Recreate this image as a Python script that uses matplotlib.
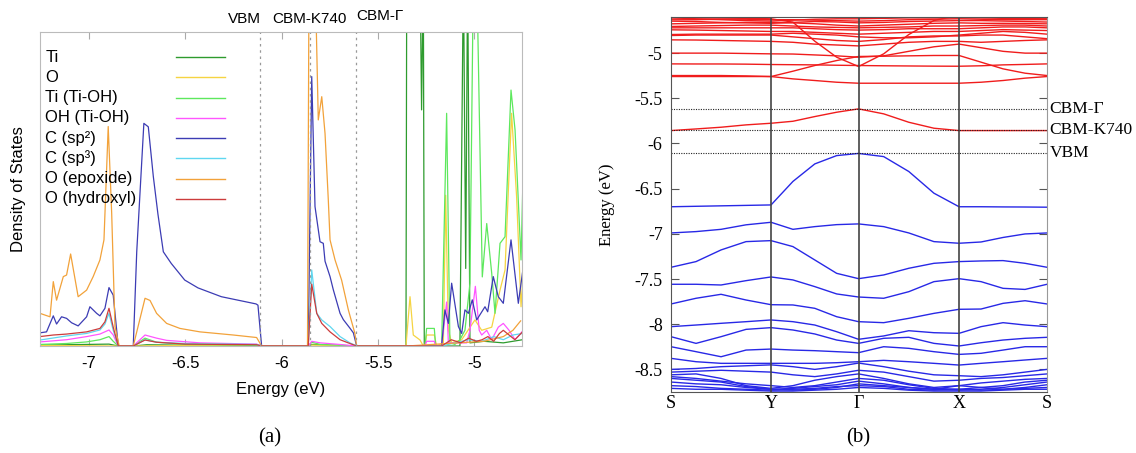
import numpy as np
import matplotlib
matplotlib.use("Agg")
import matplotlib.pyplot as plt

plt.rcParams['axes.unicode_minus'] = False
SANS = ['Liberation Sans', 'DejaVu Sans']
SERIF = ['Liberation Serif', 'DejaVu Serif']

# ---------------- (a) projected DOS: (energy eV, DOS arb. units) ----------------
dos_labels = ["Ti", "O", "Ti (Ti-OH)", "OH (Ti-OH)", "C (sp²)", "C (sp³)", "O (epoxide)", "O (hydroxyl)"]
dos_colors = ["#2e9b2e", "#f5d442", "#5de85d", "#ff55ff", "#3c3cb4", "#5fd7f0", "#f2a23a", "#cc3c3c"]

ti_e = [-7.254, -6.896, -6.848, -6.77, -6.70, -6.104, -5.862, -5.844, -5.611, -5.355, -5.351, -5.282,
        -5.274, -5.265, -5.26, -5.075, -5.057, -5.045, -5.035, -5.023, -4.95, -4.85, -4.75]
ti_v = [0.003, 0.006, 0.0, 0.0, 0.004, 0.0, 0.0, 0.005, 0.0, 0.0, 1.2, 1.2,
        0.752, 1.2, 0.0, 0.0, 1.2, 0.247, 1.2, 0.01, 0.015, 0.01, 0.02]

o_e = [-7.254, -6.848, -6.77, -6.5, -6.104, -5.862, -5.844, -5.611, -5.355, -5.334, -5.317, -5.282,
       -5.265, -5.256, -5.248, -5.208, -5.196, -5.161, -5.149, -5.135, -5.118, -5.066, -4.997, -4.962,
       -4.91, -4.867, -4.841, -4.807, -4.781, -4.758, -4.746]
o_v = [0.002, 0.0, 0.0, 0.002, 0.0, 0.0, 0.003, 0.0, 0.0, 0.157, 0.035, 0.019,
       0.0, 0.0, 0.035, 0.035, 0.0, 0.01, 0.48, 0.05, 0.01, 0.02, 0.083, 0.05,
       0.06, 0.178, 0.242, 0.741, 0.476, 0.125, 0.242]

tioh_e = [-7.254, -7.116, -7.012, -6.943, -6.896, -6.874, -6.848, -6.77, -6.709, -6.649, -6.5, -6.2,
          -6.104, -5.862, -5.844, -5.8, -5.611, -5.265, -5.256, -5.248, -5.208, -5.201, -5.17, -5.144,
          -5.127, -5.101, -5.075, -5.049, -5.023, -5.005, -4.988, -4.959, -4.936, -4.91, -4.893, -4.867,
          -4.841, -4.81, -4.789, -4.758, -4.746]
tioh_v = [0.005, 0.008, 0.013, 0.02, 0.03, 0.015, 0.0, 0.0, 0.025, 0.012, 0.005, 0.003,
          0.0, 0.0, 0.012, 0.005, 0.0, 0.0, 0.0, 0.056, 0.056, 0.0, 0.0, 0.741,
          0.01, 0.005, 0.02, 0.05, 0.2, 1.2, 1.2, 0.22, 0.39, 0.231, 0.104, 0.327,
          0.348, 0.815, 0.688, 0.274, 0.582]

oh_e = [-7.254, -7.116, -7.012, -6.943, -6.896, -6.874, -6.848, -6.77, -6.709, -6.649, -6.597, -6.424,
        -6.13, -6.104, -5.862, -5.844, -5.80, -5.70, -5.611, -5.265, -5.256, -5.248, -5.208, -5.201,
        -5.17, -5.144, -5.135, -5.066, -5.04, -5.023, -4.995, -4.975, -4.962, -4.936, -4.91, -4.876,
        -4.85, -4.82, -4.789, -4.746]
oh_v = [0.013, 0.02, 0.03, 0.038, 0.051, 0.035, 0.0, 0.0, 0.035, 0.025, 0.018, 0.01,
        0.006, 0.0, 0.0, 0.015, 0.01, 0.005, 0.0, 0.0, 0.0, 0.015, 0.015, 0.0,
        0.0, 0.14, 0.01, 0.01, 0.01, 0.05, 0.19, 0.05, 0.035, 0.05, 0.02, 0.06,
        0.072, 0.05, 0.02, 0.05]

csp2_e = [-7.254, -7.22, -7.185, -7.168, -7.142, -7.116, -7.09, -7.056, -7.012, -6.995, -6.96, -6.943,
          -6.917, -6.896, -6.874, -6.848, -6.77, -6.752, -6.715, -6.692, -6.666, -6.642, -6.614, -6.573,
          -6.503, -6.434, -6.313, -6.227, -6.133, -6.123, -6.104, -5.862, -5.844, -5.827, -5.801, -5.784,
          -5.775, -5.749, -5.732, -5.697, -5.68, -5.646, -5.628, -5.611, -5.17, -5.153, -5.135, -5.118,
          -5.083, -5.066, -5.049, -5.031, -5.011, -4.988, -4.945, -4.931, -4.902, -4.876, -4.85, -4.81,
          -4.772, -4.746]
csp2_v = [0.042, 0.045, 0.096, 0.07, 0.093, 0.088, 0.074, 0.064, 0.093, 0.125, 0.104, 0.096,
          0.12, 0.186, 0.162, 0.0, 0.0, 0.30, 0.709, 0.698, 0.54, 0.42, 0.30, 0.263,
          0.21, 0.185, 0.157, 0.146, 0.134, 0.13, 0.0, 0.0, 0.858, 0.444, 0.332, 0.327,
          0.27, 0.221, 0.179, 0.104, 0.084, 0.057, 0.042, 0.0, 0.0, 0.115, 0.072, 0.2,
          0.062, 0.04, 0.115, 0.104, 0.147, 0.083, 0.125, 0.109, 0.221, 0.157, 0.136, 0.338,
          0.136, 0.253]

csp3_e = [-7.254, -7.116, -7.012, -6.943, -6.917, -6.896, -6.874, -6.848, -6.77, -6.709, -6.649, -6.5,
          -6.13, -6.104, -5.862, -5.844, -5.818, -5.792, -5.749, -5.697, -5.646, -5.611, -5.17, -5.10,
          -5.03, -4.96, -4.90, -4.85, -4.80, -4.75]
csp3_v = [0.019, 0.032, 0.04, 0.051, 0.07, 0.104, 0.05, 0.0, 0.0, 0.02, 0.012, 0.008,
          0.005, 0.0, 0.0, 0.242, 0.104, 0.083, 0.062, 0.03, 0.01, 0.0, 0.0, 0.01,
          0.02, 0.015, 0.03, 0.02, 0.035, 0.04]

oepo_e = [-7.254, -7.202, -7.185, -7.168, -7.133, -7.116, -7.095, -7.056, -7.012, -6.978, -6.943, -6.922,
          -6.90, -6.882, -6.865, -6.843, -6.77, -6.709, -6.683, -6.649, -6.597, -6.528, -6.424, -6.251,
          -6.13, -6.104, -5.866, -5.858, -5.838, -5.827, -5.81, -5.792, -5.775, -5.758, -5.749, -5.723,
          -5.689, -5.654, -5.62, -5.611, -5.35, -4.95, -4.85, -4.80, -4.76]
oepo_v = [0.104, 0.093, 0.205, 0.146, 0.221, 0.226, 0.293, 0.157, 0.178, 0.221, 0.274, 0.338,
          0.699, 0.423, 0.062, 0.0, 0.0, 0.152, 0.145, 0.104, 0.072, 0.056, 0.045, 0.035,
          0.027, 0.0, 0.0, 1.2, 1.2, 1.2, 0.72, 0.794, 0.677, 0.465, 0.338, 0.274,
          0.21, 0.115, 0.04, 0.0, 0.0, 0.015, 0.03, 0.05, 0.08]

ohyd_e = [-7.254, -7.185, -7.116, -7.012, -6.943, -6.917, -6.896, -6.874, -6.848, -6.77, -6.709, -6.649,
          -6.5, -6.13, -6.104, -5.862, -5.844, -5.818, -5.792, -5.749, -5.697, -5.646, -5.611, -5.17,
          -5.12, -5.07, -5.03, -4.99, -4.96, -4.93, -4.90, -4.87, -4.85, -4.82, -4.79, -4.75]
ohyd_v = [0.03, 0.035, 0.038, 0.045, 0.056, 0.077, 0.12, 0.06, 0.0, 0.0, 0.019, 0.012,
          0.006, 0.004, 0.0, 0.0, 0.197, 0.104, 0.072, 0.045, 0.02, 0.008, 0.0, 0.0,
          0.02, 0.01, 0.025, 0.015, 0.02, 0.03, 0.015, 0.04, 0.05, 0.035, 0.02, 0.045]

dos_series = [(ti_e, ti_v), (o_e, o_v), (tioh_e, tioh_v), (oh_e, oh_v),
              (csp2_e, csp2_v), (csp3_e, csp3_v), (oepo_e, oepo_v), (ohyd_e, ohyd_v)]

# band edges (eV)
edge_names = ["VBM", "CBM-K740", "CBM-Γ"]
edge_E = [-6.11, -5.855, -5.615]

# ---------------- (b) band structure ----------------
k_labels = ["S", "Y", "Γ", "X", "S"]
k_ticks = [0.0, 1.0, 1.875, 2.88, 3.76]

# energies at S, 1/4, 1/2, 3/4 of every segment and the final S (17 points)
valence = [
    [-6.70, -6.695, -6.69, -6.685, -6.68, -6.42, -6.226, -6.134, -6.11, -6.145, -6.31, -6.55, -6.70, -6.70, -6.702, -6.703, -6.705],
    [-6.99, -6.975, -6.95, -6.90, -6.872, -6.95, -6.92, -6.898, -6.89, -6.92, -6.99, -7.086, -7.104, -7.09, -7.04, -7.001, -6.99],
    [-7.37, -7.307, -7.178, -7.086, -7.075, -7.141, -7.289, -7.437, -7.496, -7.455, -7.381, -7.326, -7.307, -7.30, -7.296, -7.326, -7.37],
    [-7.558, -7.558, -7.566, -7.518, -7.477, -7.51, -7.584, -7.665, -7.699, -7.713, -7.64, -7.529, -7.496, -7.529, -7.603, -7.615, -7.558],
    [-7.776, -7.713, -7.669, -7.732, -7.784, -7.787, -7.824, -7.917, -7.972, -7.983, -7.935, -7.88, -7.835, -7.832, -7.769, -7.74, -7.776],
    [-8.027, -8.009, -7.99, -7.972, -7.953, -7.972, -8.009, -8.083, -8.167, -8.13, -8.072, -8.094, -8.101, -8.027, -7.983, -8.009, -8.027],
    [-8.138, -8.212, -8.138, -8.057, -8.038, -8.064, -8.108, -8.175, -8.212, -8.156, -8.145, -8.212, -8.241, -8.205, -8.175, -8.156, -8.145],
    [-8.249, -8.304, -8.36, -8.286, -8.275, -8.286, -8.293, -8.304, -8.315, -8.249, -8.267, -8.304, -8.334, -8.322, -8.286, -8.249, -8.249],
    [-8.378, -8.415, -8.433, -8.433, -8.433, -8.433, -8.433, -8.426, -8.415, -8.40, -8.415, -8.433, -8.452, -8.433, -8.415, -8.396, -8.378],
    [-8.50, -8.49, -8.47, -8.46, -8.45, -8.47, -8.50, -8.47, -8.43, -8.47, -8.52, -8.56, -8.57, -8.58, -8.56, -8.53, -8.50],
    [-8.53, -8.52, -8.51, -8.52, -8.53, -8.56, -8.58, -8.55, -8.51, -8.53, -8.58, -8.63, -8.62, -8.60, -8.59, -8.57, -8.55],
    [-8.56, -8.55, -8.60, -8.68, -8.71, -8.68, -8.62, -8.58, -8.55, -8.60, -8.66, -8.70, -8.68, -8.65, -8.63, -8.61, -8.60],
    [-8.58, -8.60, -8.63, -8.66, -8.68, -8.70, -8.68, -8.64, -8.60, -8.62, -8.67, -8.71, -8.72, -8.70, -8.68, -8.64, -8.62],
    [-8.60, -8.62, -8.64, -8.69, -8.72, -8.71, -8.69, -8.67, -8.63, -8.66, -8.70, -8.72, -8.73, -8.72, -8.70, -8.67, -8.64],
    [-8.64, -8.66, -8.67, -8.70, -8.72, -8.73, -8.72, -8.70, -8.66, -8.68, -8.70, -8.72, -8.68, -8.70, -8.72, -8.70, -8.67],
    [-8.68, -8.69, -8.71, -8.72, -8.73, -8.72, -8.71, -8.69, -8.68, -8.69, -8.72, -8.73, -8.72, -8.73, -8.72, -8.71, -8.70],
    [-8.71, -8.72, -8.72, -8.73, -8.74, -8.74, -8.73, -8.72, -8.70, -8.71, -8.73, -8.74, -8.74, -8.74, -8.73, -8.72, -8.72],
]

conduction = [
    [-5.857, -5.839, -5.82, -5.794, -5.776, -5.754, -5.702, -5.654, -5.617, -5.672, -5.765, -5.831, -5.857, -5.857, -5.857, -5.857, -5.857],
    [-5.259, -5.259, -5.259, -5.259, -5.259, -5.285, -5.303, -5.322, -5.333, -5.333, -5.333, -5.333, -5.333, -5.322, -5.303, -5.277, -5.259],
    [-5.248, -5.248, -5.248, -5.252, -5.259, -5.20, -5.137, -5.082, -5.037, -5.034, -5.03, -5.026, -5.026, -5.10, -5.174, -5.222, -5.248],
    [-5.119, -5.12, -5.12, -5.122, -5.126, -5.128, -5.13, -5.134, -5.137, -5.14, -5.142, -5.144, -5.145, -5.14, -5.13, -5.125, -5.119],
    [-4.609, -4.61, -4.612, -4.615, -4.62, -4.657, -4.868, -5.045, -5.148, -5.008, -4.794, -4.639, -4.58, -4.58, -4.58, -4.58, -4.58],
    [-5.0, -5.0, -5.0, -5.004, -5.008, -5.01, -5.02, -5.03, -5.045, -5.03, -4.98, -4.93, -4.90, -4.94, -4.98, -5.0, -5.0],
    [-4.853, -4.855, -4.86, -4.865, -4.87, -4.88, -4.9, -4.91, -4.92, -4.9, -4.88, -4.87, -4.87, -4.88, -4.87, -4.86, -4.853],
    [-4.805, -4.80, -4.80, -4.80, -4.80, -4.82, -4.84, -4.86, -4.87, -4.85, -4.82, -4.81, -4.81, -4.80, -4.80, -4.82, -4.84],
    [-4.794, -4.79, -4.79, -4.79, -4.79, -4.78, -4.79, -4.80, -4.82, -4.83, -4.83, -4.82, -4.80, -4.78, -4.76, -4.77, -4.79],
    [-4.742, -4.745, -4.75, -4.755, -4.76, -4.76, -4.77, -4.78, -4.79, -4.78, -4.77, -4.76, -4.76, -4.75, -4.74, -4.745, -4.75],
    [-4.72, -4.72, -4.72, -4.72, -4.72, -4.72, -4.73, -4.74, -4.745, -4.74, -4.73, -4.73, -4.73, -4.72, -4.71, -4.71, -4.72],
    [-4.705, -4.70, -4.695, -4.69, -4.69, -4.70, -4.71, -4.715, -4.72, -4.715, -4.71, -4.70, -4.70, -4.695, -4.69, -4.69, -4.70],
    [-4.676, -4.67, -4.665, -4.66, -4.66, -4.665, -4.675, -4.69, -4.70, -4.69, -4.68, -4.67, -4.665, -4.67, -4.67, -4.672, -4.676],
    [-4.646, -4.65, -4.66, -4.665, -4.67, -4.66, -4.65, -4.655, -4.665, -4.66, -4.65, -4.645, -4.64, -4.64, -4.645, -4.65, -4.656],
    [-4.631, -4.63, -4.625, -4.625, -4.63, -4.63, -4.635, -4.64, -4.646, -4.64, -4.63, -4.625, -4.62, -4.625, -4.63, -4.63, -4.63],
    [-4.609, -4.62, -4.63, -4.64, -4.645, -4.635, -4.625, -4.62, -4.62, -4.615, -4.61, -4.61, -4.609, -4.61, -4.615, -4.615, -4.614],
]

fig = plt.figure(figsize=(11.36, 4.53), dpi=100)

# ===== panel (a) =====
ax = fig.add_axes([0.0352, 0.2362, 0.4243, 0.6932])
for (e, v), c in zip(dos_series, dos_colors):
    ax.plot(e, v, color=c, lw=0.9)
for name, e in zip(edge_names, edge_E):
    ax.axvline(e, color="#999999", ls=(0, (2, 3)), lw=0.9)
ax.set_xlim(-7.254, -4.753)
ax.set_ylim(0, 1)
ax.set_yticks([])
ax.set_xticks([-7, -6.5, -6, -5.5, -5])
ax.set_xticklabels(["-7", "-6.5", "-6", "-5.5", "-5"], family=SANS, fontsize=12)
ax.tick_params(axis="x", direction="in", top=True, length=5, color="#aaaaaa", pad=7)
for s in ax.spines.values():
    s.set_color("#bbbbbb")
ax.set_xlabel("Energy (eV)", family=SANS, fontsize=12, labelpad=8)
ax.set_ylabel("Density of States", family=SANS, fontsize=12, labelpad=10)

# edge labels above the panel
ax.text(edge_E[0], 1.02, edge_names[0], ha="right", va="bottom", family=SANS, fontsize=11,
        transform=ax.get_xaxis_transform())
ax.text(edge_E[1], 1.02, edge_names[1], ha="center", va="bottom", family=SANS, fontsize=11,
        transform=ax.get_xaxis_transform())
ax.text(edge_E[2], 1.03, edge_names[2], ha="left", va="bottom", family=SANS, fontsize=11,
        transform=ax.get_xaxis_transform())

# gnuplot-style key
for i, (lab, c) in enumerate(zip(dos_labels, dos_colors)):
    yy = 0.92 - i * 0.0645
    ax.text(0.011, yy, lab, transform=ax.transAxes, ha="left", va="center", family=SANS, fontsize=12)
    ax.plot([0.283, 0.384], [yy, yy], transform=ax.transAxes, color=c, lw=1.0)

# ===== panel (b) =====
bx = fig.add_axes([0.5907, 0.1347, 0.331, 0.8278])
seg = [np.linspace(k_ticks[i], k_ticks[i + 1], 5)[:-1] for i in range(4)]
kpts = np.concatenate(seg + [[k_ticks[-1]]])
for b in valence:
    bx.plot(kpts, b, color="#2828e6", lw=1.0)
for b in conduction:
    bx.plot(kpts, b, color="#f01c1c", lw=1.0)
for kt in k_ticks[1:-1]:
    bx.axvline(kt, color="#444444", lw=1.2)
for name, e in zip(edge_names, edge_E):
    bx.axhline(e, color="#222222", ls=(0, (1, 1.2)), lw=0.8)
    bx.text(1.006, e, name, transform=bx.get_yaxis_transform(), ha="left", va="center",
            family=SERIF, fontsize=12.5)
bx.set_xlim(k_ticks[0], k_ticks[-1])
bx.set_ylim(-8.75, -4.60)
bx.set_xticks(k_ticks)
bx.set_xticklabels(k_labels, family=SERIF, fontsize=13)
bx.set_yticks([-5, -5.5, -6, -6.5, -7, -7.5, -8, -8.5])
bx.set_yticklabels(["-5", "-5.5", "-6", "-6.5", "-7", "-7.5", "-8", "-8.5"], family=SERIF, fontsize=13)
bx.tick_params(axis="y", direction="in", right=True, length=6, color="#555555", pad=6)
bx.tick_params(axis="x", length=0, pad=2)
for s in bx.spines.values():
    s.set_color("#555555")
bx.spines["right"].set_color("#999999")
bx.set_ylabel("Energy (eV)", family=SERIF, fontsize=12, labelpad=14)

fig.text(270 / 1136, 1 - 438 / 453, "(a)", ha="center", va="center", family=SERIF, fontsize=15)
fig.text(858 / 1136, 1 - 438 / 453, "(b)", ha="center", va="center", family=SERIF, fontsize=15)

fig.savefig("out.png", dpi=100)
